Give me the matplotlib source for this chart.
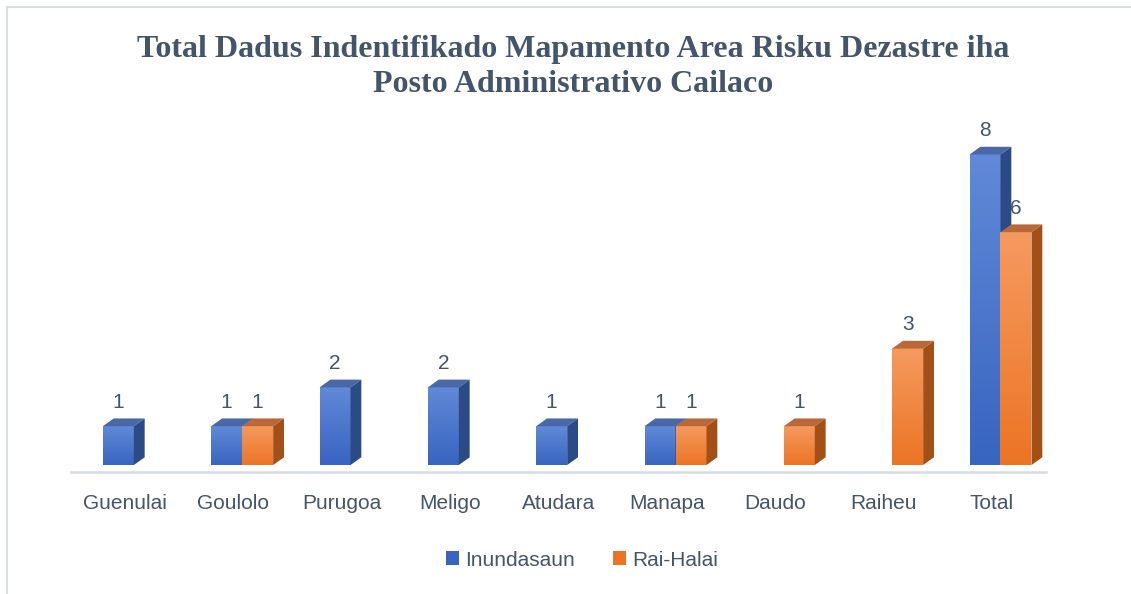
import numpy as np
import matplotlib.pyplot as plt
from matplotlib.patches import Polygon, Patch
from matplotlib.colors import LinearSegmentedColormap

categories = ['Guenulai', 'Goulolo', 'Purugoa', 'Meligo', 'Atudara',
              'Manapa', 'Daudo', 'Raiheu', 'Total']
inundasaun = [1, 1, 2, 2, 1, 1, 0, 0, 8]
rai_halai = [0, 1, 0, 0, 0, 1, 1, 3, 6]

title = 'Total Dadus Indentifikado Mapamento Area Risku Dezastre iha\nPosto Administrativo Cailaco'
txt_col = '#44546A'

# colours: (front top, front bottom, top face, side face)
blue = ('#6189D8', '#3865C0', '#4A68A8', '#2C4A86')
orange = ('#F59A5E', '#EC7425', '#BB6838', '#A24F18')

fig = plt.figure(figsize=(11.31, 5.94), dpi=100)
ax = fig.add_axes([71 / 1131, 1 - 472 / 594, 975 / 1131, 352 / 594])

w = 0.286      # bar width (slot = 1)
shift = 0.08   # pair offset caused by the 3d depth
dx, dy = 0.10, 0.2


def bar3d(x0, h, cols):
    if h <= 0:
        return
    cmap = LinearSegmentedColormap.from_list('g', [cols[1], cols[0]])
    grad = np.linspace(0, 1, 64).reshape(-1, 1)
    ax.imshow(grad, cmap=cmap, origin='lower', aspect='auto',
              extent=(x0, x0 + w, 0, h), zorder=2)
    ax.add_patch(Polygon([(x0, h), (x0 + w, h), (x0 + w + dx, h + dy), (x0 + dx, h + dy)],
                         closed=True, fc=cols[2], ec='none', zorder=2))
    ax.add_patch(Polygon([(x0 + w, 0), (x0 + w + dx, dy), (x0 + w + dx, h + dy), (x0 + w, h)],
                         closed=True, fc=cols[3], ec='none', zorder=2))
    ax.annotate(str(h), (x0 + w / 2, h), xytext=(0, 17), textcoords='offset points',
                ha='center', va='center', fontsize=15, color=txt_col,
                family='Liberation Sans')


for i in range(len(categories)):
    c = i + shift
    bar3d(c - w, inundasaun[i], blue)
    bar3d(c, rai_halai[i], orange)

ax.set_xlim(-0.5, len(categories) - 0.5)
ax.set_ylim(-0.18, 8.89)
ax.set_xticks(range(len(categories)))
ax.set_xticklabels(categories, fontsize=15, color=txt_col, family='Liberation Sans')
ax.tick_params(axis='x', length=0, pad=16)
ax.set_yticks([])
for s in ['top', 'right', 'left']:
    ax.spines[s].set_visible(False)
ax.spines['bottom'].set_color('#D6DCE4')
ax.spines['bottom'].set_linewidth(1.8)
ax.set_facecolor('none')

fig.text(573 / 1131, 1 - 67 / 594, title, ha='center', va='center',
         fontsize=23, fontweight='bold', family='Liberation Serif',
         color=txt_col, linespacing=1.3)

handles = [Patch(fc=blue[1], label='Inundasaun'), Patch(fc=orange[1], label='Rai-Halai')]
leg = fig.legend(handles=handles, loc='center', bbox_to_anchor=(582 / 1131, 1 - 560 / 594),
                 ncol=2, frameon=False, fontsize=15, handlelength=0.65, handleheight=0.65,
                 handletextpad=0.3, columnspacing=1.8)
for t in leg.get_texts():
    t.set_color(txt_col)
    t.set_family('Liberation Sans')

# chart border (top and left edges visible)
fig.add_artist(plt.Line2D([7 / 1131, 1], [1 - 7 / 594, 1 - 7 / 594], color='#D9DEE3', lw=1.5))
fig.add_artist(plt.Line2D([7 / 1131, 7 / 1131], [0, 1 - 7 / 594], color='#D9DEE3', lw=1.5))

fig.savefig('out.png', dpi=100)
